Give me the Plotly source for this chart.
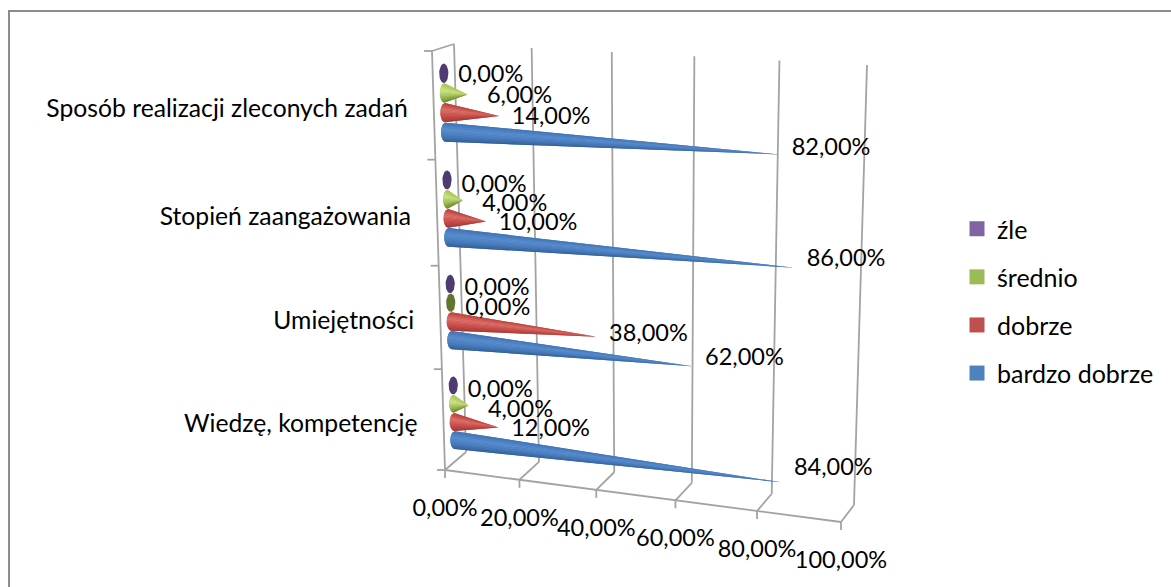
import math
import plotly.graph_objects as go

# ---------- data ----------
categories = ["Wiedzę, kompetencję", "Umiejętności", "Stopień zaangażowania", "Sposób realizacji zleconych zadań"]
bardzo_dobrze = [84, 62, 86, 82]
dobrze = [12, 38, 10, 14]
srednio = [4, 0, 4, 6]
zle = [0, 0, 0, 0]
series_names = ["bardzo dobrze", "dobrze", "średnio", "źle"]
series_values = [bardzo_dobrze, dobrze, srednio, zle]
axis_ticks = [0, 20, 40, 60, 80, 100]


def pct(v):
    return f"{v:.2f}".replace(".", ",") + "%"


# ---------- style ----------
FONT = "Lato"
LABEL_SIZE = 23.5
CAT_SIZE = 24.7
LEGEND_SIZE = 25
GRID = "#a3a3a3"
legend_colors = ["#4F81BD", "#C0504D", "#9BBB59", "#8064A2"]
zero_colors = ["#3A6296", "#8E3A38", "#5F7530", "#4F3A72"]
stops = [
    ["#3F72B3", "#5A8FD0", "#4A7DBE", "#2F5C96"],
    ["#B8403C", "#E0736E", "#C8504C", "#A03835"],
    ["#A8C45A", "#D4E68A", "#A6C45E", "#6E8A30"],
    ["#8064A2", "#8064A2", "#8064A2", "#8064A2"],
]
base_colors = ["#4A7DBE", "#C8504C", "#A6C45E", "#8064A2"]
label_dy = [
    [-13, -7, -8, -5],
    [3, -2, 3, 2],
    [6, 6, 5, 3],
    [6, 5, 6, 3],
]
N_BANDS = 12
R_T = 0.0225      # cone radius in wall height units
A_PX = 4.6        # base ellipse half width


# ---------- oblique projection of the Excel 3-D box ----------
def lerp(a, b, f):
    return a + (b - a) * f


def project(v, t, d):
    """v: value in %, t: height on wall 0..1, d: depth 0 front .. 1 back."""
    u = v / 100
    u = u - 0.075 * u * (1 - u)
    t = t - 0.05 * t * (1 - t)
    # left edge
    xl = lerp(lerp(445, 432, t), lerp(466, 454, t), d)
    yl = lerp(lerp(470, 51, t), lerp(452, 44, t), d)
    # right edge
    xr = lerp(lerp(841, 854, t), lerp(854, 867, t), d)
    yr = lerp(lerp(522, 72, t), lerp(505, 65, t), d)
    return lerp(xl, xr, u), lerp(yl, yr, u)


def hex_rgb(h):
    return [int(h[i:i + 2], 16) for i in (1, 3, 5)]


def ramp(colors, f):
    p = f * (len(colors) - 1)
    i = min(int(p), len(colors) - 2)
    a, b = hex_rgb(colors[i]), hex_rgb(colors[i + 1])
    c = [round(lerp(a[k], b[k], p - i)) for k in range(3)]
    return f"rgb({c[0]},{c[1]},{c[2]})"


def cone_t(c, s):
    return c / 4 + 0.053 + s * 0.0458


fig = go.Figure()

# ---------- frame (right and bottom edges fall outside the picture) ----------
fig.add_shape(type="rect", x0=9, y0=11, x1=1200, y1=620, xref="x", yref="y",
              line=dict(color="#8c8c8c", width=2), fillcolor="white", layer="below")

# ---------- box lines ----------
gx, gy = [], []


def seg(a, b):
    gx.extend([a[0], b[0], None])
    gy.extend([a[1], b[1], None])


for v in axis_ticks:
    f = project(v, 0, 0)
    b = project(v, 0, 1)
    seg(f, b)
    seg(b, project(v, 1, 1))
    seg(f, (f[0], f[1] + 8))
seg(project(0, 0, 0), project(100, 0, 0))
seg(project(0, 0, 0), project(0, 1, 0))
seg(project(0, 1, 0), project(0, 1, 1))
for i in range(5):
    p = project(0, i / 4, 0)
    seg(p, (p[0] - 8, p[1]))
fig.add_trace(go.Scatter(x=gx, y=gy, mode="lines", showlegend=False, hoverinfo="skip",
                         line=dict(color=GRID, width=1.8)))

# ---------- legend (top to bottom) ----------
for s in [3, 2, 1, 0]:
    fig.add_trace(go.Scatter(x=[None], y=[None], mode="markers", name=series_names[s],
                             legendgroup=series_names[s], showlegend=True,
                             marker=dict(symbol="square", size=15, color=legend_colors[s])))

# ---------- cones ----------
label_x, label_y, label_text = [], [], []
for s, values in enumerate(series_values):
    zero_x, zero_y = [], []
    sil_x, sil_y = [], []
    bands = [([], []) for _ in range(N_BANDS)]
    for c, val in enumerate(values):
        t = cone_t(c, s)
        cx, cy = project(0, t, 0.5)
        ax, ay = project(val, t, 0.5)
        _, top = project(0, t + R_T, 0.5)
        _, bot = project(0, t - R_T, 0.5)
        r = (bot - top) / 2
        if val == 0:
            for k in range(41):
                a = 2 * math.pi * k / 40
                zero_x.append(cx + A_PX * math.cos(a))
                zero_y.append(cy + r * math.sin(a))
            zero_x.append(None)
            zero_y.append(None)
        else:
            arc = [-1 + 2 * k / 40 for k in range(41)]
            arc_x = [cx - A_PX * math.sqrt(max(0, 1 - q * q)) for q in arc]
            arc_y = [cy + r * q for q in arc]
            sil_x.extend(arc_x + [ax, arc_x[0], None])
            sil_y.extend(arc_y + [ay, arc_y[0], None])
            for b in range(N_BANDS):
                q0 = -1 + 2 * b / N_BANDS
                q1 = -1 + 2 * (b + 1) / N_BANDS
                xs, ys = [], []
                for k in range(5):
                    q = lerp(q0, q1, k / 4)
                    xs.append(cx - A_PX * math.sqrt(max(0, 1 - q * q)))
                    ys.append(cy + r * q)
                bands[b][0].extend(xs + [ax, xs[0], None])
                bands[b][1].extend(ys + [ay, ys[0], None])
        label_x.append(ax + 52 if val else cx + 47)
        label_y.append(ay + label_dy[s][c])
        label_text.append(pct(val))
    if sil_x:
        fig.add_trace(go.Scatter(x=sil_x, y=sil_y, mode="lines", fill="toself",
                                 fillcolor=base_colors[s], line=dict(width=0),
                                 showlegend=False, hoverinfo="skip"))
    for b in range(N_BANDS):
        if bands[b][0]:
            col = ramp(stops[s], (b + 0.5) / N_BANDS)
            fig.add_trace(go.Scatter(x=bands[b][0], y=bands[b][1], mode="lines", fill="toself",
                                     fillcolor=col, line=dict(width=0),
                                     showlegend=False, hoverinfo="skip"))
    if zero_x:
        fig.add_trace(go.Scatter(x=zero_x, y=zero_y, mode="lines", fill="toself",
                                 fillcolor=zero_colors[s], line=dict(width=0),
                                 showlegend=False, hoverinfo="skip"))

# ---------- texts ----------
fig.add_trace(go.Scatter(x=label_x, y=label_y, text=label_text, mode="text", textposition="middle center",
                         textfont=dict(family=FONT, size=LABEL_SIZE, color="black"),
                         showlegend=False, hoverinfo="skip"))

tick_pts = [project(v, 0, 0) for v in axis_ticks]
fig.add_trace(go.Scatter(x=[p[0] for p in tick_pts], y=[p[1] + 40 for p in tick_pts],
                         text=[pct(v) for v in axis_ticks], mode="text", textposition="middle center",
                         textfont=dict(family=FONT, size=LABEL_SIZE, color="black"),
                         showlegend=False, hoverinfo="skip"))

cat_pts = [project(0, (i + 0.5) / 4, 0) for i in range(4)]
fig.add_trace(go.Scatter(x=[p[0] - 26 for p in cat_pts], y=[p[1] + 5.5 for p in cat_pts],
                         text=categories, mode="text", textposition="middle left",
                         textfont=dict(family=FONT, size=CAT_SIZE, color="black"),
                         showlegend=False, hoverinfo="skip"))

fig.update_layout(
    width=1171, height=587, autosize=False,
    margin=dict(l=0, r=0, t=0, b=0),
    paper_bgcolor="white", plot_bgcolor="white",
    xaxis=dict(range=[0, 1171], visible=False, fixedrange=True),
    yaxis=dict(range=[587, 0], visible=False, fixedrange=True),
    legend=dict(x=957 / 1171, y=1 - 206 / 587, xanchor="left", yanchor="top",
                traceorder="grouped", tracegroupgap=12.6, bgcolor="rgba(0,0,0,0)",
                font=dict(family=FONT, size=LEGEND_SIZE, color="black"), itemwidth=30),
)

fig.write_html("out.html", config={"displayModeBar": False},
               post_script="document.body.style.margin='0';")
